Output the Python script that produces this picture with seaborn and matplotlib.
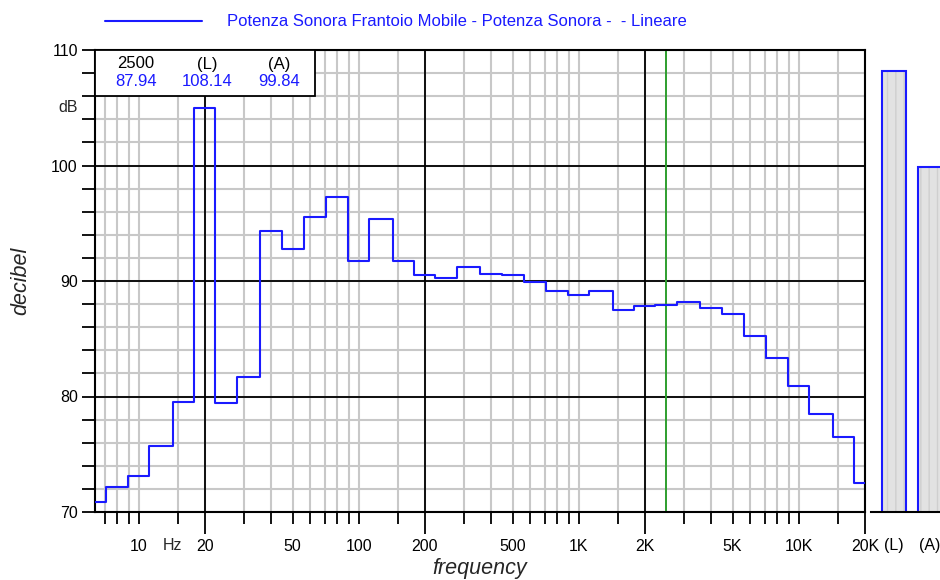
import matplotlib
matplotlib.use("Agg")
import matplotlib.pyplot as plt
from matplotlib.patches import Rectangle
import seaborn as sns
import pandas as pd

# bande di terzo d'ottava (Hz) e livelli (dB)
bande = [6.3, 8, 10, 12.5, 16, 20, 25, 31.5, 40, 50, 63, 80, 100, 125, 160,
         200, 250, 315, 400, 500, 630, 800, 1000, 1250, 1600, 2000, 2500,
         3150, 4000, 5000, 6300, 8000, 10000, 12500, 16000, 20000]
livelli = [70.9, 72.2, 73.1, 75.7, 79.5, 105.0, 79.4, 81.7, 94.3, 92.8,
           95.5, 97.3, 91.7, 95.4, 91.7, 90.5, 90.3, 91.2, 90.6, 90.5,
           89.9, 89.1, 88.8, 89.1, 87.5, 87.8, 87.94, 88.2, 87.7, 87.1,
           85.2, 83.3, 80.9, 78.5, 76.5, 72.5]

# totali (L) e (A)
totali_nomi = ["(L)", "(A)"]
totali_val = [108.14, 99.84]

cursore_freq = 2500
cursore_val = 87.94

titolo = "Potenza Sonora Frantoio Mobile - Potenza Sonora -  - Lineare"

BLU = "#1a1aff"
GRIGIO = "#c8c8c8"
FS = 11.5

sns.set_theme(style="white")
plt.rcParams['font.family'] = ['Liberation Sans', 'DejaVu Sans']

# gradini: bordo inferiore di ogni banda + bordo superiore dell'ultima
bordi = [b / 10 ** 0.05 for b in bande] + [bande[-1] * 10 ** 0.05]
df = pd.DataFrame({'freq': bordi, 'dB': livelli + [livelli[-1]]})

fig = plt.figure(figsize=(9.4, 5.8), dpi=100)
ax = fig.add_axes([95 / 940, 1 - 512 / 580, 770 / 940, 462 / 580])
bx = fig.add_axes([871 / 940, 1 - 512 / 580, 69 / 940, 462 / 580])

sns.lineplot(data=df, x='freq', y='dB', ax=ax, drawstyle='steps-post',
             color=BLU, lw=1.5, zorder=3, label=titolo)

ax.set_xscale('log')
ax.set_xlim(20 / 10 ** 0.5, 20000)
ax.set_ylim(70, 110)

# griglia
maj_x = [20, 200, 2000, 20000]
min_x = [7, 8, 9, 10, 15]
for k in [1, 10, 100]:
    min_x += [m * k for m in [30, 40, 50, 60, 70, 80, 90, 100, 150]]
etich = {10: '10', 50: '50', 100: '100', 500: '500', 1000: '1K',
         5000: '5K', 10000: '10K'}
ax.set_xticks(maj_x, labels=['20', '200', '2K', '20K'])
ax.set_xticks(min_x, labels=[etich.get(m, '') for m in min_x], minor=True)
ax.set_yticks(range(70, 111, 10))
ax.set_yticks(range(70, 111, 2), minor=True)

ax.grid(which='both', color=GRIGIO, lw=1.5, zorder=0)
for f in maj_x[:-1]:
    ax.axvline(f, color='black', lw=1.3, zorder=1.5)
for v in [80, 90, 100]:
    ax.axhline(v, color='black', lw=1.3, zorder=1.5)
ax.axvline(cursore_freq, color='#2e9e2e', lw=1.4, zorder=2.5)

for s in ax.spines.values():
    s.set_color('black')
    s.set_linewidth(1.5)

ax.tick_params(axis='x', which='major', direction='out', length=15.8,
               width=1.3, pad=3.4, labelsize=FS, colors='black', bottom=True)
ax.tick_params(axis='x', which='minor', direction='out', length=8.6,
               width=1.3, pad=10.6, labelsize=FS, colors='black', bottom=True)
ax.tick_params(axis='y', which='both', direction='out', length=9.4,
               width=1.3, pad=3, labelsize=FS, colors='black', left=True)
ax.text(-(95 - 78) / 770, 105, 'dB', transform=ax.get_yaxis_transform(),
        ha='right', va='center', fontsize=FS)
ax.text((172 - 95) / 770, -(546 - 512) / 462, 'Hz', transform=ax.transAxes,
        ha='center', va='center', fontsize=FS)

ax.set_xlabel('frequency', fontsize=15.5, style='italic')
ax.set_ylabel('decibel', fontsize=15.5, style='italic')
ax.xaxis.set_label_coords(0.5, -0.1)
ax.yaxis.set_label_coords(-0.083, 0.5)

# riquadro valori al cursore
ax.add_patch(Rectangle((20 / 10 ** 0.5, 106), 63.2 - 20 / 10 ** 0.5, 4,
                       facecolor='white', edgecolor='black', lw=1.3,
                       zorder=4))
xs = [(136 - 95) / 770, (207 - 95) / 770, (279 - 95) / 770]
righe = [[str(cursore_freq)] + totali_nomi,
         [f"{cursore_val:.2f}"] + [f"{v:.2f}" for v in totali_val]]
for x, t1, t2 in zip(xs, righe[0], righe[1]):
    ax.text(x, 1 - 14 / 462, t1, transform=ax.transAxes, ha='center',
            va='center', fontsize=12, color='black', zorder=5)
    ax.text(x, 1 - 32 / 462, t2, transform=ax.transAxes, ha='center',
            va='center', fontsize=12, color=BLU, zorder=5)

# legenda in alto
leg = ax.legend(loc='center left', bbox_to_anchor=(105 / 940, 1 - 22 / 580),
                bbox_transform=fig.transFigure, frameon=False, fontsize=12,
                borderpad=0, borderaxespad=0, handlelength=5.8,
                handletextpad=1.5)
for t in leg.get_texts():
    t.set_color(BLU)

# barre dei totali
sns.barplot(x=totali_nomi, y=totali_val, ax=bx, color='#e2e2e2',
            edgecolor='#cfcfcf', hatch='||', linewidth=0, width=0.667,
            errorbar=None, saturation=1)
sns.barplot(x=totali_nomi, y=totali_val, ax=bx, color=BLU, fill=False,
            linewidth=1.5, width=0.667, errorbar=None, saturation=1)
bx.set_xlim(-23 / 36, 46 / 36)
bx.set_ylim(70, 110)
bx.set_yticks([])
bx.set_xlabel('')
bx.set_ylabel('')
for k in ['top', 'right', 'left']:
    bx.spines[k].set_visible(False)
bx.spines['bottom'].set_color('black')
bx.spines['bottom'].set_linewidth(1.5)
bx.tick_params(axis='x', length=0, pad=19.0, labelsize=FS, colors='black')

fig.savefig('out.png', dpi=100)
